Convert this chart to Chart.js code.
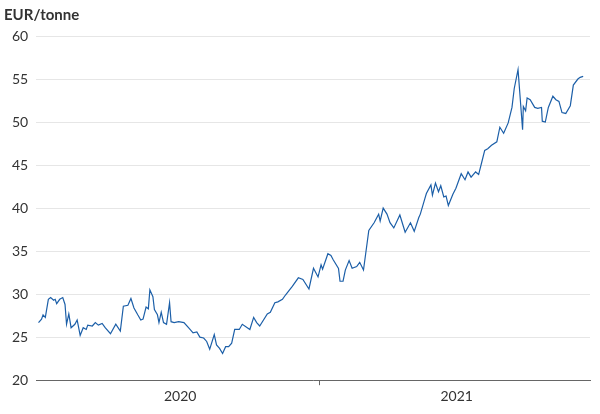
<!DOCTYPE html>
<html><head><meta charset="utf-8">
<script src="https://cdn.jsdelivr.net/npm/chart.js@4/dist/chart.umd.min.js"></script>
<style>html,body{margin:0;padding:0;background:#fff}#w{width:600px;height:414px}</style>
</head><body><div id="w"><canvas id="c"></canvas></div>
<script>
// days since 2020-01-01
const days=[-5,-1,1,4,8,11,15,17,19,23,27,30,32,35,38,43,46,50,54,58,60,66,70,74,79,83,90,97,103,107,113,117,121,126,130,133,137,140,142,146,148,152,154,157,160,164,168,170,174,180,187,193,199,204,208,213,217,221,227,230,234,238,242,246,250,254,260,264,274,279,283,287,297,301,307,311,317,321,330,338,344,352,358,364,368,370,377,381,384,391,393,397,400,405,409,415,419,424,431,438,444,446,450,455,459,464,472,479,486,491,497,499,505,507,513,515,519,523,526,530,533,536,542,546,553,558,562,566,572,576,580,584,588,593,600,604,609,615,620,623,628,634,635,638,640,644,650,654,659,660,664,668,674,678,682,686,691,697,701,707,710,714];
const prices=[26.7,27.1,27.6,27.3,29.4,29.6,29.3,29.4,28.9,29.4,29.6,28.8,26.5,27.7,26.1,26.5,27.0,25.2,26.1,25.9,26.4,26.3,26.7,26.4,26.6,26.1,25.4,26.5,25.7,28.6,28.7,29.5,28.4,27.6,27.0,27.1,28.5,28.3,30.5,29.7,28.2,27.6,26.7,27.9,26.7,26.5,29.0,26.8,26.7,26.8,26.7,26.1,25.5,25.6,25.0,24.9,24.5,23.6,25.3,24.1,23.7,23.1,23.9,23.9,24.3,25.9,25.9,26.5,25.9,27.3,26.7,26.3,27.7,27.9,29.0,29.1,29.4,29.9,30.9,31.9,31.7,30.6,33.0,32.0,33.4,32.9,34.7,34.5,34.0,33.0,31.5,31.5,32.8,33.9,33.0,33.2,33.7,32.8,37.4,38.3,39.3,38.5,40.0,39.3,38.3,37.7,39.2,37.2,38.3,37.3,38.9,39.3,41.1,41.7,42.7,41.5,42.9,41.9,42.6,41.3,41.4,40.3,41.6,42.3,44.0,43.3,44.2,43.6,44.2,43.9,45.3,46.7,46.9,47.3,47.7,49.4,48.7,49.9,51.7,53.9,56.1,49.1,51.8,51.3,52.8,52.6,51.7,51.6,51.7,50.1,50.0,51.7,53.0,52.6,52.4,51.1,51.0,51.9,54.3,55.0,55.2,55.3,57.9];
const yTicks=[20,25,30,35,40,45,50,55,60];
const yearLabels={182:'2020',547:'2021'};
const yearBoundary=366;
const pts=days.map((d,i)=>({x:d,y:prices[i]}));
new Chart(document.getElementById('c'),{
 type:'line',
 data:{datasets:[{data:pts,borderColor:'#1c5fa8',borderWidth:1.2,pointRadius:0,tension:0}]},
 options:{responsive:true,maintainAspectRatio:false,animation:false,
  layout:{padding:{left:4,right:10,top:2,bottom:6}},
  plugins:{legend:{display:false},tooltip:{enabled:false},
   title:{display:true,text:'EUR/tonne',align:'start',color:'#333',font:{family:'Lato',size:15},padding:{top:4,bottom:12}}},
  scales:{
   x:{type:'linear',min:-8,max:723,
    afterBuildTicks:a=>{a.ticks=[182,yearBoundary,547].map(v=>({value:v}));},
    ticks:{autoSkip:false,maxRotation:0,color:'#333',font:{family:'Lato',size:14},callback:v=>yearLabels[v]||''},
    grid:{drawOnChartArea:false,tickLength:5,color:c=>c.tick&&c.tick.value===yearBoundary?'#666':'rgba(0,0,0,0)'},
    border:{color:'#666',width:1}},
   y:{min:20,max:60,
    afterBuildTicks:a=>{a.ticks=yTicks.map(v=>({value:v}));},
    ticks:{color:'#333',font:{family:'Lato',size:14},padding:8},
    grid:{color:'#e6e6e6',drawTicks:false},border:{display:false}}
  }}
});
</script></body></html>
